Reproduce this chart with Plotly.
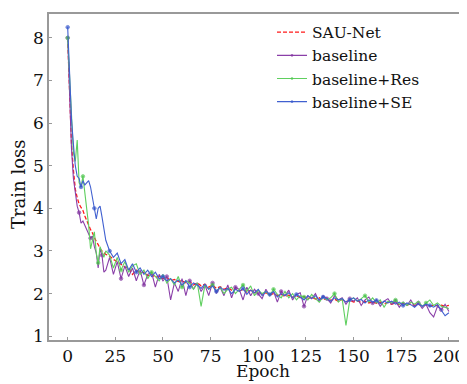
import plotly.graph_objects as go

# Epoch indices: every epoch for the first 20, then every 2 epochs
epochs = list(range(0, 21)) + list(range(22, 201, 2))

sau_net = [
    8.0, 6.6, 5.5, 4.9, 4.45, 4.25, 4.1, 4.02, 3.95, 3.82, 3.7, 3.62, 3.5, 3.42, 3.3, 3.22, 3.15, 3.05, 3.0, 2.95, 2.92,
    2.88, 2.8, 2.75, 2.68, 2.62, 2.6, 2.45, 2.55, 2.48, 2.5,
    2.42, 2.45, 2.38, 2.4, 2.35, 2.38, 2.3, 2.33, 2.28, 2.3,
    2.25, 2.28, 2.2, 2.25, 2.18, 2.22, 2.15, 2.2, 2.12, 2.16,
    2.1, 2.14, 2.08, 2.12, 2.06, 2.1, 2.03, 2.08, 2.02, 2.05,
    1.98, 2.02, 1.97, 2.0, 1.95, 1.98, 1.93, 1.96, 1.91, 1.95,
    1.9, 1.93, 1.88, 1.92, 1.87, 1.9, 1.85, 1.89, 1.84, 1.87,
    1.82, 1.86, 1.81, 1.84, 1.8, 1.83, 1.79, 1.82, 1.78, 1.81,
    1.77, 1.8, 1.76, 1.79, 1.75, 1.78, 1.74, 1.77, 1.73, 1.76,
    1.72, 1.75, 1.71, 1.74, 1.7, 1.73, 1.71, 1.73, 1.7, 1.72,
]

baseline = [
    8.0, 6.5, 5.4, 4.7, 4.3, 4.05, 3.9, 3.65, 3.7, 3.6, 3.5, 3.4, 3.3, 3.35, 3.1, 2.95, 2.6, 3.05, 2.9, 2.5, 2.55,
    2.85, 2.45, 2.75, 2.35, 2.65, 2.4, 2.6, 2.3, 2.55, 2.2,
    2.45, 2.5, 2.15, 2.45, 2.3, 2.4, 1.85, 2.25, 2.05, 2.35,
    1.95, 2.3, 2.1, 2.25, 2.05, 2.2, 1.95, 2.25, 2.0, 2.15,
    1.95, 2.2, 1.9, 2.15, 2.1, 1.85, 2.15, 1.95, 2.1, 2.0,
    1.88, 2.1, 1.95, 2.05, 1.8, 2.05, 1.95, 2.08, 1.85, 1.98,
    2.02, 1.7, 1.95, 1.88, 2.0, 1.8, 1.95, 1.88, 1.78, 1.95,
    1.85, 1.9, 1.75, 1.88, 1.82, 1.9, 1.72, 1.85, 1.92, 1.78,
    1.85, 1.7, 1.82, 1.88, 1.75, 1.82, 1.68, 1.8, 1.72, 1.85,
    1.7, 1.78, 1.65, 1.75, 1.55, 1.45, 1.7, 1.62, 1.75, 1.58,
]

baseline_res = [
    8.0, 7.0, 6.0, 5.3, 5.1, 5.6, 4.6, 4.5, 4.75, 4.4, 4.0, 3.6, 3.05, 3.3, 3.45, 2.95, 2.72, 3.1, 2.95, 2.85, 3.0,
    2.9, 2.6, 2.85, 2.55, 2.75, 2.5, 2.65, 2.7, 2.45, 2.55,
    2.35, 2.5, 2.4, 2.3, 2.45, 2.25, 2.35, 2.2, 2.4, 2.15,
    2.3, 2.25, 2.1, 2.25, 1.7, 2.2, 2.1, 2.2, 2.05, 2.15,
    2.0, 2.1, 2.15, 2.0, 2.1, 2.2, 2.05, 2.18, 1.95, 2.08,
    2.0, 2.05, 1.95, 2.1, 1.98, 1.9, 2.05, 1.9, 2.0, 1.85,
    1.95, 1.92, 1.85, 1.98, 1.88, 1.8, 1.92, 1.85, 1.9, 2.0,
    1.8, 1.88, 1.25, 1.85, 1.9, 1.82, 1.88, 1.95, 1.8, 1.9,
    1.78, 1.85, 1.68, 1.82, 1.78, 1.85, 1.75, 1.8, 1.72, 1.8,
    1.75, 1.82, 1.7, 1.78, 1.85, 1.72, 1.78, 1.7, 1.68, 1.65,
]

baseline_se = [
    8.25, 7.0, 6.1, 5.5, 5.0, 4.75, 4.7, 4.5, 4.65, 4.55, 4.6, 4.65, 4.5, 4.25, 4.0, 3.75, 4.0, 4.05, 3.8, 3.5, 3.25,
    3.0, 2.85, 2.95, 2.7, 2.8, 2.55, 2.7, 2.5, 2.6, 2.45,
    2.55, 2.4, 2.5, 2.35, 2.4, 2.3, 2.35, 2.25, 2.32, 2.2,
    2.3, 2.15, 2.25, 2.2, 2.12, 2.22, 2.1, 2.18, 2.05, 2.15,
    2.08, 2.12, 2.0, 2.1, 2.05, 2.12, 1.98, 2.08, 2.02, 2.1,
    1.95, 2.05, 1.98, 2.05, 1.92, 2.0, 1.95, 2.02, 1.9, 1.98,
    1.92, 1.85, 1.95, 1.88, 1.95, 1.85, 1.92, 1.88, 1.82, 1.9,
    1.85, 1.88, 1.8, 1.85, 1.9, 1.82, 1.86, 1.78, 1.85, 1.8,
    1.84, 1.76, 1.82, 1.78, 1.82, 1.75, 1.8, 1.72, 1.78, 1.74,
    1.68, 1.76, 1.7, 1.75, 1.72, 1.68, 1.74, 1.62, 1.48, 1.55,
]

x_ticks = [0, 25, 50, 75, 100, 125, 150, 175, 200]
y_ticks = [1, 2, 3, 4, 5, 6, 7, 8]

for s in (sau_net, baseline, baseline_res, baseline_se):
    assert len(s) == len(epochs), len(s)

FONT = "DejaVu Serif"

def marker_sizes(n, every=7, size=3.5):
    return [size if i % every == 0 else 0 for i in range(n)]

fig = go.Figure()
fig.add_trace(go.Scatter(
    x=epochs, y=sau_net, name="SAU-Net", mode="lines",
    line=dict(color="#ff1a1a", width=1.3, dash="4px,2px"),
))
fig.add_trace(go.Scatter(
    x=epochs, y=baseline, name="baseline", mode="lines+markers",
    line=dict(color="#8a3fa8", width=1.1),
    marker=dict(color="#7a2a98", size=marker_sizes(len(epochs), 6)),
))
fig.add_trace(go.Scatter(
    x=epochs, y=baseline_res, name="baseline+Res", mode="lines+markers",
    line=dict(color="#5fcf5f", width=1.1),
    marker=dict(color="#3fbf3f", size=marker_sizes(len(epochs), 8)),
))
fig.add_trace(go.Scatter(
    x=epochs, y=baseline_se, name="baseline+SE", mode="lines+markers",
    line=dict(color="#4060d0", width=1.1),
    marker=dict(color="#2d4fc8", size=marker_sizes(len(epochs), 7)),
))

axis_common = dict(
    showline=True, linecolor="#999999", linewidth=1.5,
    ticks="inside", ticklen=3, tickcolor="#999999",
    showgrid=False, zeroline=False,
    tickfont=dict(family=FONT, size=17, color="#111111"),
)

fig.update_xaxes(range=[-9.8, 209.5], tickvals=x_ticks, mirror=True, **axis_common)
fig.update_yaxes(range=[0.91, 8.56], tickvals=y_ticks, mirror=False, **axis_common)

# The page body has an 8px default margin, so the figure is 8px smaller
W, H = 459, 376
L, R, T, B = 41, 0, 6, 44
pw, ph = W - L - R, H - T - B

fig.update_layout(
    width=W, height=H,
    margin=dict(l=L, r=R, t=T, b=B),
    plot_bgcolor="white", paper_bgcolor="white",
    font=dict(family=FONT, size=16, color="#111111"),
    legend=dict(
        x=(272 - 49) / pw, y=0.995, xanchor="left", yanchor="top",
        bgcolor="rgba(0,0,0,0)", borderwidth=0,
        font=dict(family=FONT, size=15.5),
        tracegroupgap=0, itemwidth=30,
    ),
    annotations=[
        dict(text="Epoch", xref="paper", yref="paper", x=(263 - 49) / pw, y=-(B - 1) / ph,
             xanchor="center", yanchor="bottom", showarrow=False,
             font=dict(family=FONT, size=17, color="#111111")),
        dict(text="Train loss", xref="paper", yref="paper", x=-(49 - 18) / pw, y=(340 - 185) / ph,
             xanchor="center", yanchor="middle", showarrow=False, textangle=-90,
             font=dict(family=FONT, size=18, color="#111111")),
    ],
)

fig.write_html("out.html")
